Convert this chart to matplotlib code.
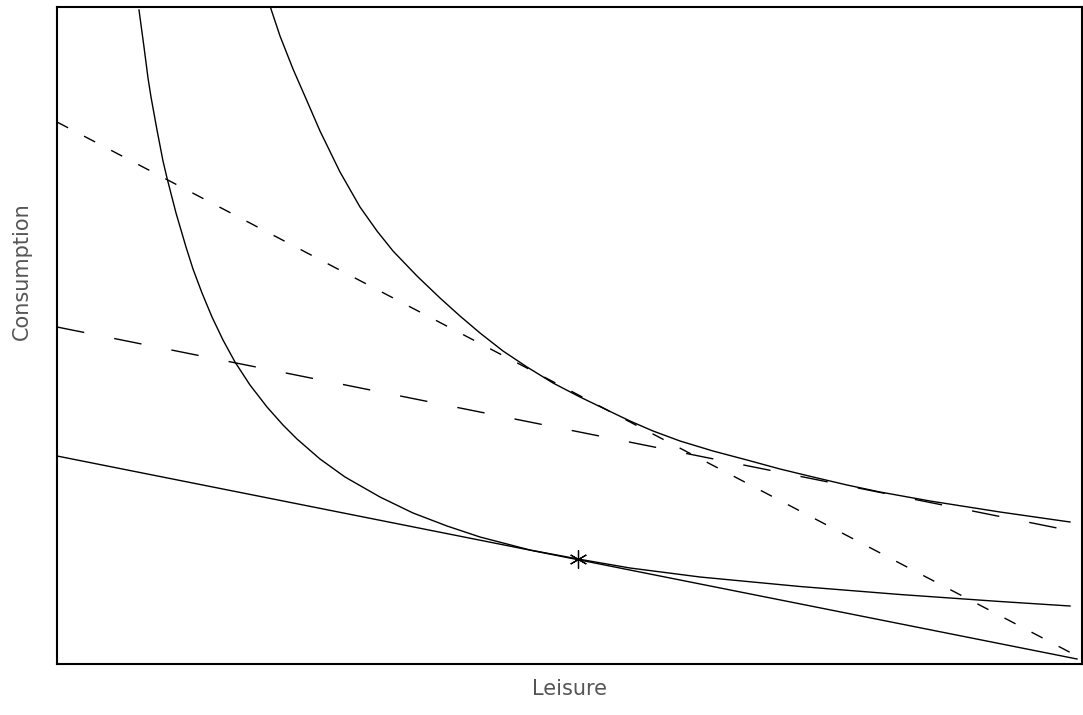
import numpy as np
import matplotlib
matplotlib.use("Agg")
import matplotlib.pyplot as plt

# indifference curves (leisure, consumption)
ic_low_x = [82, 87, 91, 94, 100, 106, 110, 119, 129, 136, 145, 155, 166, 178, 193, 210,
            226, 240, 263, 288, 323, 356, 390, 423, 473, 521, 573, 643, 743, 843, 943, 1013]
ic_low_y = [654, 617, 586, 567, 534, 503, 486, 451, 417, 395, 371, 347, 324, 302, 279, 257,
            239, 225, 205, 187, 167, 151, 138, 127, 114, 105, 96, 87, 77.5, 69.5, 62.5, 58]

ic_high_x = [212, 223, 236, 250, 263, 283, 303, 320, 336, 360, 383, 403, 423, 446, 470, 496,
             523, 550, 573, 596, 623, 656, 690, 723, 756, 790, 823, 873, 943, 1013]
ic_high_y = [661, 628, 595, 563, 533, 492, 457, 433, 413, 388, 366, 348, 331, 313, 297, 281,
             267, 254, 243, 233, 223, 213, 204, 195, 187, 179, 172, 163, 152, 142]

# budget lines: end points
budget_x = [0, 1020]
budget_orig = [208, 5]      # solid
budget_steep = [542, 8]     # short dashes
budget_flat = [337, 132]    # long dashes

# chosen point
opt_x = [521]
opt_y = [105]

fig = plt.figure(figsize=(10.83, 7.15), dpi=100)
ax = fig.add_axes([57 / 1083, 1 - 664 / 715, 1025 / 1083, 657 / 715])

ax.plot(ic_low_x, ic_low_y, color="black", lw=1.0)
ax.plot(ic_high_x, ic_high_y, color="black", lw=1.0)
ax.plot(budget_x, budget_orig, color="black", lw=1.0)
ax.plot(budget_x, budget_steep, color="black", lw=1.0, dashes=(9, 13))
ax.plot(budget_x, budget_flat, color="black", lw=1.0, dashes=(20, 22))
ax.plot(opt_x, opt_y, marker=(6, 2, 0), color="black", ms=13, mew=0.9, ls="none")

ax.set_xlim(0, 1025)
ax.set_ylim(0, 657)
ax.set_xticks([])
ax.set_yticks([])
for s in ax.spines.values():
    s.set_linewidth(1.5)

fig.text(570 / 1083, 1 - 689 / 715, "Leisure", ha="center", va="center",
         fontsize=15, color="#555555")
fig.text(22 / 1083, 1 - 271 / 715, "Consumption", ha="center", va="center",
         rotation=90, fontsize=15, color="#555555")

fig.savefig("out.png", dpi=100)
